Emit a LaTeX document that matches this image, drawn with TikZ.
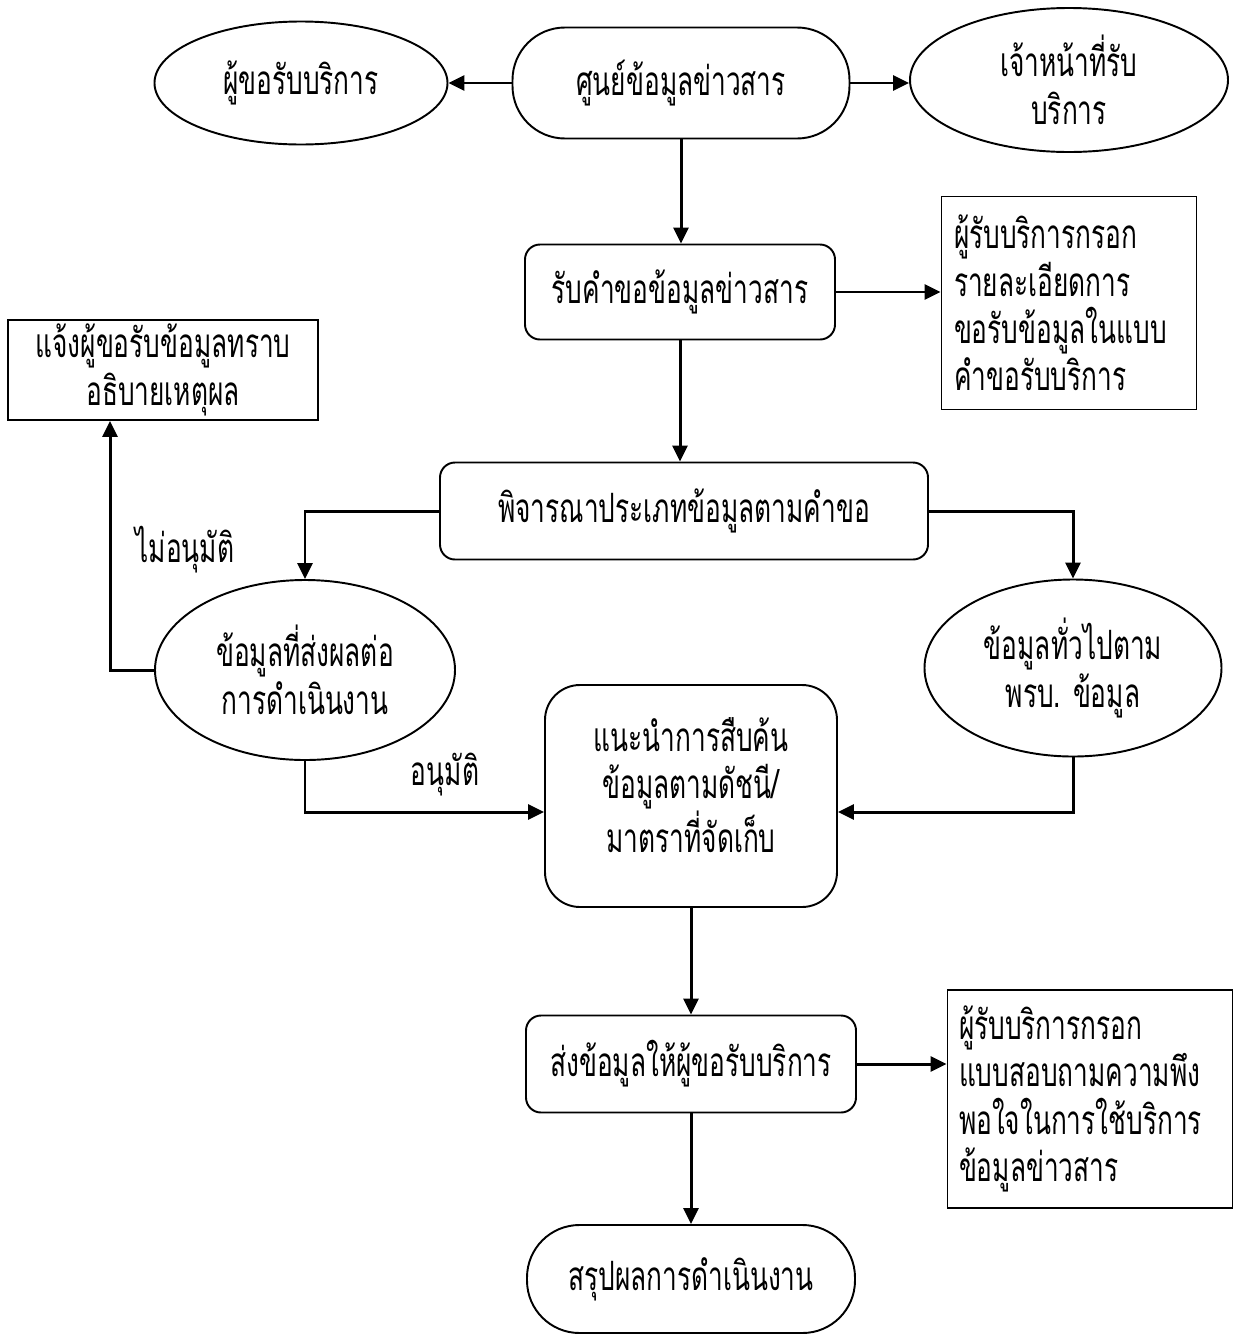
\documentclass[tikz,border=0pt]{standalone}
\usepackage{fontspec}
\newfontfamily\thai[Script=Thai,FakeStretch=0.65]{Loma}
\usetikzlibrary{shapes.geometric,arrows.meta}
\begin{document}
\begin{tikzpicture}[x=0.02cm,y=-0.02cm,
  txt/.style={font=\thai\fontsize{23}{27}\selectfont},
  wh/.style 2 args={minimum width=#1*0.02cm, minimum height=#2*0.02cm},
  box/.style={draw, line width=1.1pt, txt, align=center, inner sep=0pt},
  ell/.style={box, ellipse},
  rbox/.style={box, rounded corners=0.3cm},
  stad/.style={box, rounded corners=1.05cm},
  note/.style={box, align=left},
  arr/.style={line width=1.7pt, -{Triangle[length=0.32cm,width=0.3cm]}},
  lbl/.style={txt, inner sep=0pt}
]
\useasboundingbox (0,0) rectangle (1237,1336);

\node[ell, wh={293}{123}] (A) at (301,83) {ผู้ขอรับบริการ};
\node[stad, wh={337}{111}] (B) at (681,83) {ศูนย์ข้อมูลข่าวสาร};
\node[ell, wh={318}{144}] (C) at (1069,80) {เจ้าหน้าที่รับ\\บริการ};
\node[rbox, wh={310}{95}] (D) at (680,292) {รับคำขอข้อมูลข่าวสาร};
\node[note, wh={255}{213}, text width=230*0.02cm] (E) at (1069,303)
  {ผู้รับบริการกรอก\\รายละเอียดการ\\ขอรับข้อมูลในแบบ\\คำขอรับบริการ};
\node[rbox, wh={488}{97}] (F) at (684,511) {พิจารณาประเภทข้อมูลตามคำขอ};
\node[box, wh={310}{100}] (G) at (163,370) {แจ้งผู้ขอรับข้อมูลทราบ\\อธิบายเหตุผล};
\node[ell, wh={300}{180}] (H) at (305,670) {ข้อมูลที่ส่งผลต่อ\\การดำเนินงาน};
\node[ell, wh={297}{177}] (I) at (1073,668) {ข้อมูลทั่วไปตาม\\พรบ. ข้อมูล};
\node[box, rounded corners=0.7cm, wh={292}{222}] (J) at (691,796)
  {แนะนำการสืบค้น\\ข้อมูลตามดัชนี/\\มาตราที่จัดเก็บ\\[-0.5cm]};
\node[rbox, wh={330}{97}] (K) at (691,1064) {ส่งข้อมูลให้ผู้ขอรับบริการ};
\node[note, wh={285}{218}, text width=262*0.02cm] (L) at (1090,1099)
  {ผู้รับบริการกรอก\\แบบสอบถามความพึง\\พอใจในการใช้บริการ\\ข้อมูลข่าวสาร};
\node[stad, wh={328}{108}] (M) at (691,1279) {สรุปผลการดำเนินงาน};

\node[lbl] (no) at (185,550) {ไม่อนุมัติ};
\node[lbl] (yes) at (445,775) {อนุมัติ};

\draw[arr] (B.west) -- (A.east);
\draw[arr] (B.east) -- (B.east -| C.west);
\draw[arr] (B.south) -- (B.south |- D.north);
\draw[arr] (D.east) -- (D.east -| E.west);
\draw[arr] (D.south) -- (D.south |- F.north);
\draw[arr] (F.west) -| (H.north);
\draw[arr] (F.east) -| (I.north);
\draw[arr] (H.west) -| ([xshift=-1.06cm]G.south);
\draw[arr] (H.south) |- ([yshift=-0.32cm]J.west);
\draw[arr] (I.south) |- ([yshift=-0.32cm]J.east);
\draw[arr] (J.south) -- (K.north);
\draw[arr] (K.east) -- (K.east -| L.west);
\draw[arr] (K.south) -- (M.north);
\end{tikzpicture}
\end{document}
